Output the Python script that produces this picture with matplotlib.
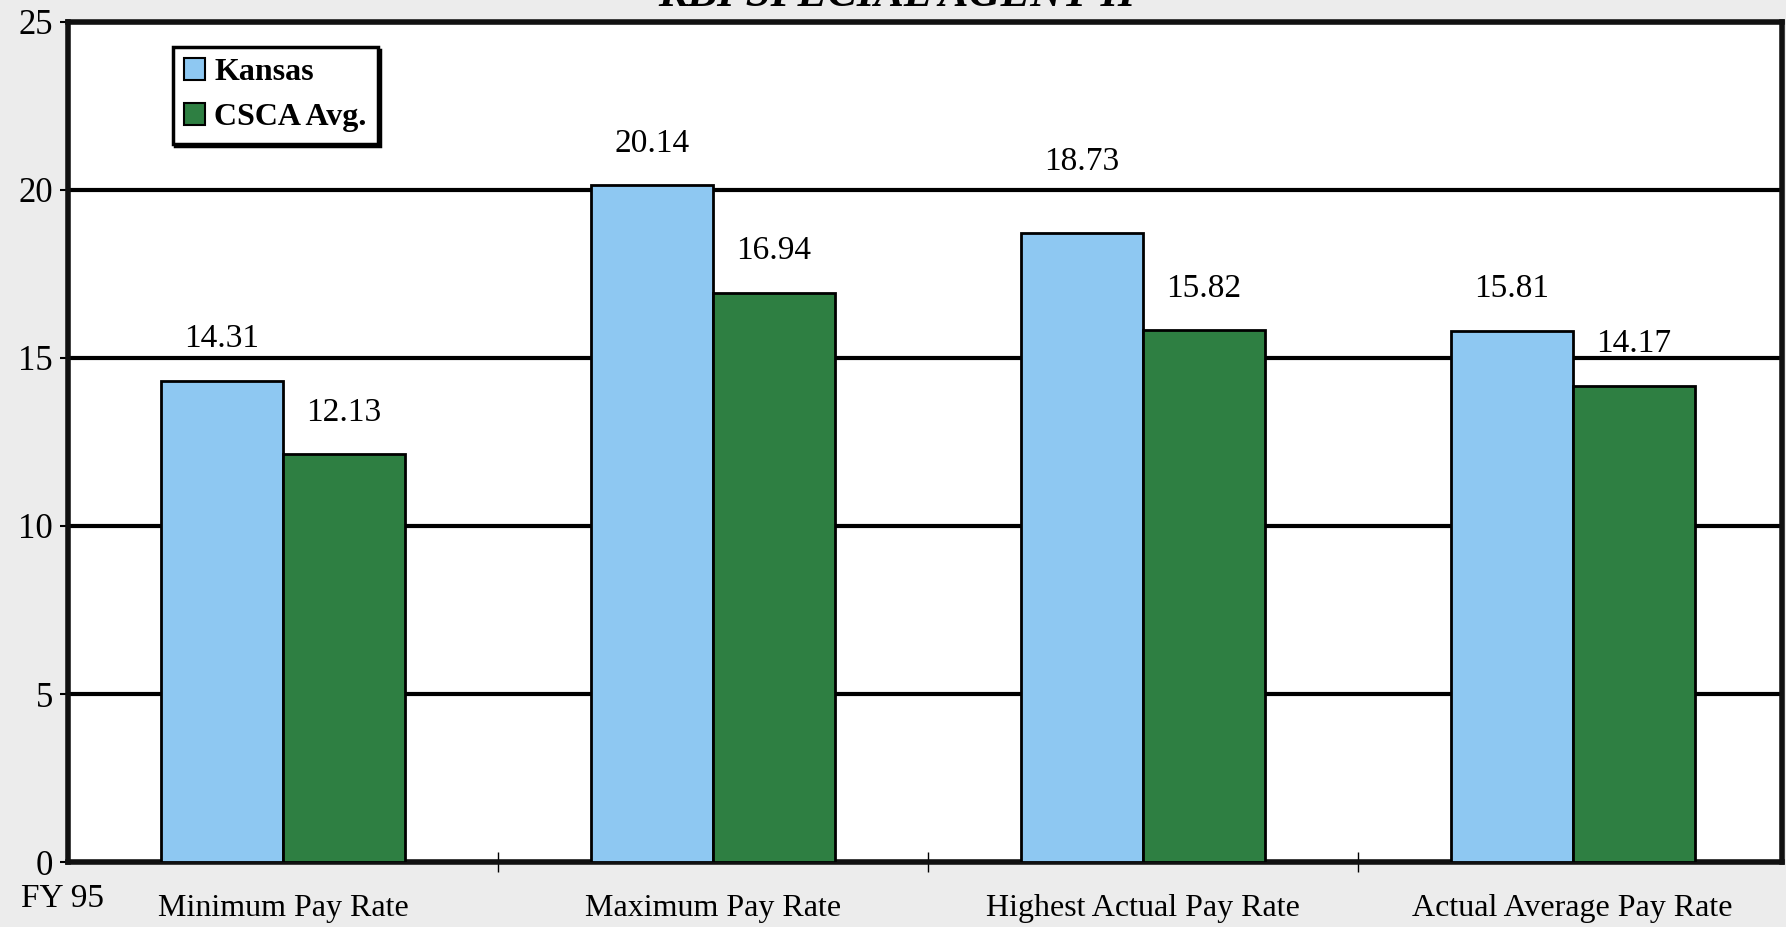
import matplotlib
matplotlib.use("Agg")
import matplotlib.pyplot as plt
import numpy as np
from matplotlib.patches import Patch

# Pay rate data (dollars per hour)
categories = ["Minimum Pay Rate", "Maximum Pay Rate",
              "Highest Actual Pay Rate", "Actual Average Pay Rate"]
kansas = [14.31, 20.14, 18.73, 15.81]
csca_avg = [12.13, 16.94, 15.82, 14.17]
series_names = ["Kansas", "CSCA Avg."]
y_ticks = [0, 5, 10, 15, 20, 25]

# vertical gap between each bar top and its value label (data units)
kansas_label_gap = [1.25, 1.25, 2.1, 1.25]
csca_label_gap = [1.25, 1.25, 1.25, 1.25]

blue = "#8ec8f2"
green = "#2e7f42"
serif = ["Liberation Serif", "DejaVu Serif"]

fig = plt.figure(figsize=(17.86, 9.27), dpi=100)
fig.patch.set_facecolor("#ececec")
ax = fig.add_axes([0.0381, 0.0701, 0.9597, 0.9062])
ax.set_facecolor("white")

x = np.arange(len(categories))
w = 0.284
b1 = ax.bar(x - w / 2, kansas, w, color=blue, edgecolor="black", linewidth=2, zorder=3)
b2 = ax.bar(x + w / 2, csca_avg, w, color=green, edgecolor="black", linewidth=2, zorder=3)

for rects, vals, gaps in ((b1, kansas, kansas_label_gap), (b2, csca_avg, csca_label_gap)):
    for r, v, g in zip(rects, vals, gaps):
        ax.text(r.get_x() + r.get_width() / 2, v + g, f"{v:.2f}",
                ha="center", va="center", fontsize=24, family=serif, zorder=4)

ax.set_xlim(-0.5, 3.487)
ax.set_ylim(0, 25)
ax.set_yticks(y_ticks)
ax.set_yticklabels([str(t) for t in y_ticks], family=serif, fontsize=25)
ax.yaxis.grid(True, color="black", linewidth=3)
ax.set_axisbelow(True)
ax.tick_params(axis="y", length=6, width=1.5, pad=5)

ax.set_xticks([0.5, 1.5, 2.5])
ax.set_xticklabels([])
ax.tick_params(axis="x", direction="inout", length=14, width=1)
for xi, lab in zip(x, categories):
    ax.text(xi, -1.62, lab, ha="center", va="baseline", fontsize=23,
            family=serif, clip_on=False)
ax.text(-0.61, -1.1, "FY 95", ha="left", va="center", fontsize=24,
        family=serif, clip_on=False)

for s in ax.spines.values():
    s.set_linewidth(4)
    s.set_color("#111111")

fig.text(0.502, 0.993, "KBI SPECIAL AGENT II", ha="center", va="baseline",
         fontsize=32, fontweight="bold", fontstyle="italic", family=serif)

handles = [Patch(facecolor=blue, edgecolor="black", linewidth=1.5),
           Patch(facecolor=green, edgecolor="black", linewidth=1.5)]
leg = ax.legend(handles, series_names, loc="upper left",
                bbox_to_anchor=(0.061, 0.97), frameon=True, fancybox=False,
                shadow={"color": "black", "alpha": 1.0},
                prop={"family": serif, "weight": "bold", "size": 23},
                handlelength=0.65, handleheight=0.65, handletextpad=0.3,
                borderpad=0.35, labelspacing=0.5, borderaxespad=0)
leg.get_frame().set_edgecolor("black")
leg.get_frame().set_linewidth(2.5)

fig.savefig("out.png", dpi=100, facecolor=fig.get_facecolor())
